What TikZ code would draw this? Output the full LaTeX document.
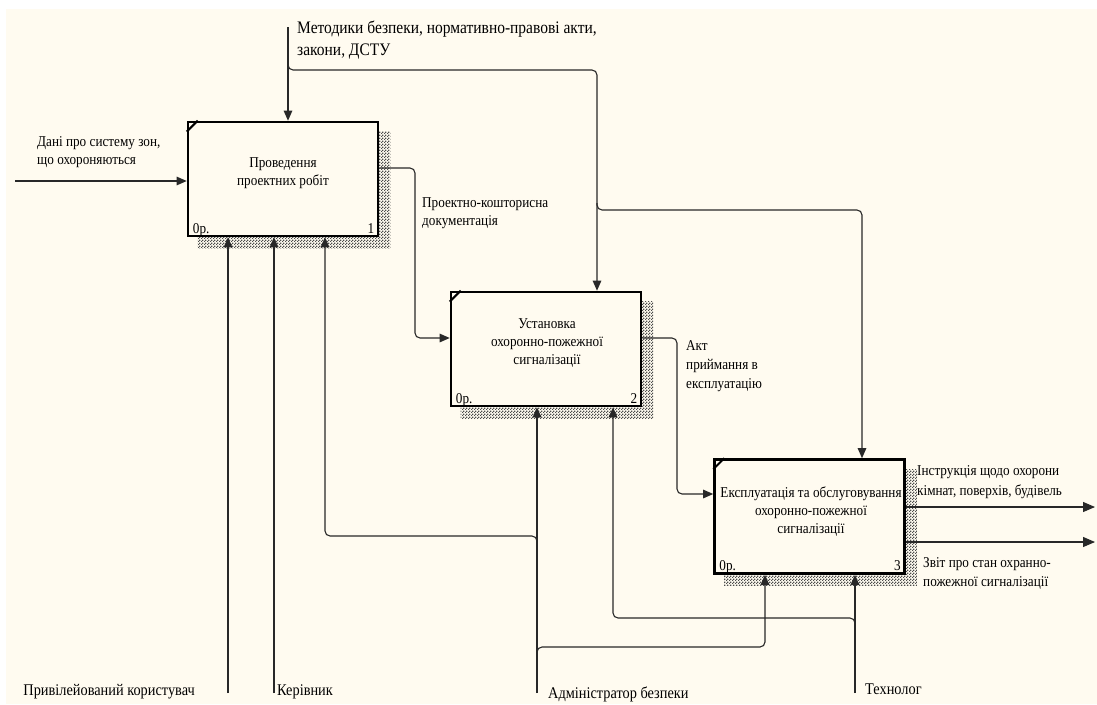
\documentclass[tikz,border=0pt]{standalone}
\usepackage{fontspec}
\setmainfont{Liberation Serif}[FakeStretch=0.88]
\usetikzlibrary{arrows.meta,patterns,backgrounds}
\definecolor{bgc}{RGB}{255,251,240}
\definecolor{ln}{RGB}{40,40,40}
\pgfdeclarepatternformonly{idefhatch}{\pgfqpoint{0pt}{0pt}}{\pgfqpoint{3pt}{3pt}}{\pgfqpoint{3pt}{3pt}}{%
 \pgfpathrectangle{\pgfqpoint{0pt}{0pt}}{\pgfqpoint{1.5pt}{1.5pt}}%
 \pgfpathrectangle{\pgfqpoint{1.5pt}{1.5pt}}{\pgfqpoint{1.5pt}{1.5pt}}%
 \pgfusepath{fill}}
\begin{document}
\begin{tikzpicture}[x=1pt,y=-1pt,
  box/.style={draw=black, line width=2.6pt, fill=bgc, minimum width=190pt, minimum height=114pt, inner sep=0pt},
  txt/.style={font=\fontsize{15}{18}\selectfont, inner sep=0pt, align=left},
  btxt/.style={txt, font=\fontsize{16.3}{18}\selectfont},
  ctxt/.style={txt, align=center},
  conn/.style={draw=ln, line width=1.1pt, rounded corners=5pt},
  arr/.style={conn, -{Triangle[width=8.5pt,length=10pt]}},
  bigarr/.style={conn, -{Triangle[width=10pt,length=12pt]}},
  shadow/.style={pattern=idefhatch, pattern color=black!70},
  corner/.style={draw=black, line width=2pt}]
\useasboundingbox (0,0) rectangle (1097,704);
\begin{scope}[on background layer]
  \fill[white] (0,0) rectangle (1097,704);
  \fill[bgc] (6,9) rectangle (1097,704);
\end{scope}

% boxes
\node[box] (b1) at (283,179) {};
\node[box] (b2) at (546,349) {};
\node[box] (b3) at (809.5,516.5) {};
\foreach \b in {b1,b2,b3}{
  \begin{scope}[on background layer]
    \fill[shadow] ([shift={(11pt,-11pt)}]\b.north west) rectangle ([shift={(11pt,-11pt)}]\b.south east);
  \end{scope}
  \draw[corner] ([yshift=-11pt]\b.north west) -- ([xshift=11pt]\b.north west);
}
\node[ctxt, anchor=north] (b1t) at (283,157) {Проведення\\проектних робіт};
\node[ctxt, anchor=north] (b2t) at (547,318) {Установка\\охоронно-пожежної\\сигналізації};
\node[ctxt, anchor=north] (b3t) at (811,487) {Експлуатація та обслуговування\\охоронно-пожежної\\сигналізації};
\node[txt, anchor=base west] (b1o) at ([shift={(6pt,4pt)}]b1.south west) {0р.};
\node[txt, anchor=base east] (b1n) at ([shift={(-5pt,4pt)}]b1.south east) {1};
\node[txt, anchor=base west] (b2o) at ([shift={(6pt,4pt)}]b2.south west) {0р.};
\node[txt, anchor=base east] (b2n) at ([shift={(-5pt,4pt)}]b2.south east) {2};
\node[txt, anchor=base west] (b3o) at ([shift={(6pt,4pt)}]b3.south west) {0р.};
\node[txt, anchor=base east] (b3n) at ([shift={(-5pt,4pt)}]b3.south east) {3};

% labels
\node[txt, anchor=north west, font=\fontsize{17.6}{22}\selectfont] (lc) at (297,21) {Методики безпеки, нормативно-правові акти,\\закони, ДСТУ};
\node[txt, anchor=north west] (li) at (37,136) {Дані про систему зон,\\що охороняються};
\node[txt, anchor=north west] (lo1) at (422,197) {Проектно-кошторисна\\документація};
\node[txt, anchor=north west, font=\fontsize{15}{19}\selectfont] (lo2) at (686,340) {Акт\\приймання в\\експлуатацію};
\node[txt, anchor=north west, font=\fontsize{15}{20}\selectfont] (lo3) at (917,465) {Інструкція щодо охорони\\кімнат, поверхів, будівель};
\node[txt, anchor=north west, font=\fontsize{15}{19}\selectfont] (lo4) at (923,557) {Звіт про стан охранно-\\пожежної сигналізації};
\node[btxt, anchor=north east] (lm1) at (195,684) {Привілейований користувач};
\node[btxt, anchor=north west] (lm2) at (277,684) {Керівник};
\node[btxt, anchor=north west] (lm3) at (548,687) {Адміністратор безпеки};
\node[btxt, anchor=north west] (lm4) at (865,684) {Технолог};

% free ends and junctions
\coordinate (ctop) at (288,27);
\coordinate (cin) at (15,181);
\coordinate (o1e) at (1095,507);
\coordinate (o2e) at (1095,542);
\coordinate (m1) at (228,693);
\coordinate (m2) at (274,693);
\coordinate (m3) at (537,693);
\coordinate (m4) at (855,693);
\coordinate (j1) at (288,63);
\coordinate (j2) at (597,203);
\coordinate (j3) at (537,544);
\coordinate (j4) at (537,655);
\coordinate (j5) at (855,626);

% controls
\draw[arr] (ctop) -- (ctop |- b1.north);
\draw[arr] (j1) -- (288,70) -- (597,70) -- (597,0 |- b2.north);
\draw[arr] (j2) -- (597,210) -- (862,210) -- (862,0 |- b3.north);
% input
\draw[arr] (cin) -- (cin -| b1.west);
% flows between boxes
\draw[arr] (b1.east |- 0,168) -- (415,168) -- (415,338) -- (b2.west |- 0,338);
\draw[arr] (b2.east |- 0,338) -- (677,338) -- (677,494) -- (b3.west |- 0,494);
% outputs
\draw[bigarr] (b3.east |- o1e) -- (o1e);
\draw[bigarr] (b3.east |- o2e) -- (o2e);
% mechanisms
\draw[arr] (m1) -- (m1 |- b1.south);
\draw[arr] (m2) -- (m2 |- b1.south);
\draw[arr] (m3) -- (m3 |- b2.south);
\draw[arr] (j3) -- (537,536) -- (325,536) -- (325,0 |- b1.south);
\draw[arr] (j4) -- (537,647) -- (765,647) -- (765,0 |- b3.south);
\draw[arr] (m4) -- (m4 |- b3.south);
\draw[arr] (j5) -- (855,618) -- (613,618) -- (613,0 |- b2.south);
\end{tikzpicture}
\end{document}
